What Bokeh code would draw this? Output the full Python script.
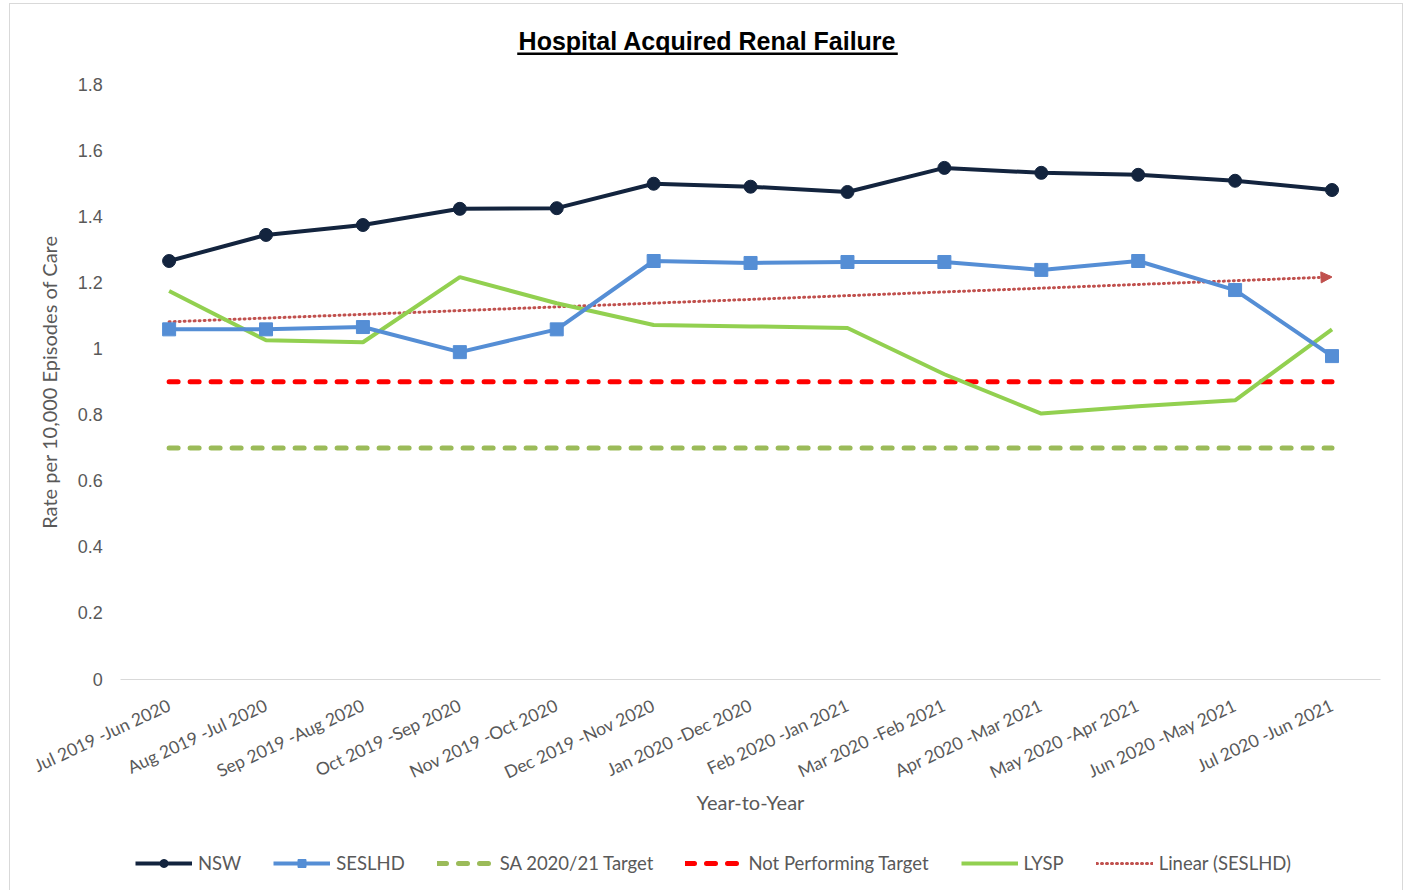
import numpy as np
from bokeh.plotting import figure
from bokeh.models import (Range1d, Legend, LegendItem, Label, BoxAnnotation,
                          Arrow, NormalHead, FixedTicker)
from bokeh.embed import file_html
from bokeh.resources import INLINE

categories = ["Jul 2019 -Jun 2020", "Aug 2019 -Jul 2020", "Sep 2019 -Aug 2020",
              "Oct 2019 -Sep 2020", "Nov 2019 -Oct 2020", "Dec 2019 -Nov 2020",
              "Jan 2020 -Dec 2020", "Feb 2020 -Jan 2021", "Mar 2020 -Feb 2021",
              "Apr 2020 -Mar 2021", "May 2020 -Apr 2021", "Jun 2020 -May 2021",
              "Jul 2020 -Jun 2021"]
nsw = [1.266, 1.345, 1.375, 1.424, 1.426, 1.500, 1.491, 1.475, 1.548, 1.533, 1.527, 1.509, 1.481]
seslhd = [1.059, 1.059, 1.066, 0.990, 1.059, 1.266, 1.260, 1.263, 1.263, 1.239, 1.266, 1.178, 0.978]
lysp = [1.175, 1.026, 1.020, 1.217, 1.138, 1.072, 1.068, 1.063, 0.923, 0.804, 0.826, 0.844, 1.059]
sa_target = [0.7] * 13
not_performing = [0.9] * 13
y_ticks = [0, 0.2, 0.4, 0.6, 0.8, 1.0, 1.2, 1.4, 1.6, 1.8]
y_tick_labels = ["0", "0.2", "0.4", "0.6", "0.8", "1", "1.2", "1.4", "1.6", "1.8"]

x = list(range(len(categories)))
coef = np.polyfit(x, seslhd, 1)
trend = list(np.polyval(coef, x))

FONT = "Lato"
GREY = "#595959"

# page layout (pixels): canvas covers 10..1402 x 4..890, frame = whole canvas
CV_L, CV_R, CV_T, CV_B = 10, 1402, 4, 890
PLOT_L, PLOT_R, PLOT_T, PLOT_B = 120, 1378, 84, 677   # Excel plot area
px_per_x = (PLOT_R - PLOT_L) / 13.0
px_per_y = (PLOT_B - PLOT_T) / 1.8

def dx(page_x):
    return (page_x - PLOT_L) / px_per_x - 0.5

def dy(page_y):
    return (PLOT_B - page_y) / px_per_y

p = figure(width=1394, height=888, output_backend="svg", toolbar_location=None,
           x_range=Range1d(dx(CV_L), dx(CV_R)), y_range=Range1d(dy(CV_B), dy(CV_T)),
           min_border_left=0, min_border_right=0, min_border_top=0, min_border_bottom=0)
p.outline_line_color = None
p.xgrid.visible = False
p.ygrid.visible = False
p.styles = {"border": "1px solid #d9d9d9", "margin-left": "9px", "margin-top": "3px"}

# axes (fixed inside the frame)
p.xaxis.fixed_location = 0
p.xaxis.bounds = (-0.5, 12.5)
p.xaxis.ticker = FixedTicker(ticks=x)
p.xaxis.major_label_overrides = {i: c for i, c in enumerate(categories)}
p.xaxis.major_label_orientation = np.deg2rad(25)
p.xaxis.major_label_text_font = FONT
p.xaxis.major_label_text_font_size = "17.5px"
p.xaxis.major_label_text_color = GREY
p.xaxis.major_tick_line_color = None
p.xaxis.minor_tick_line_color = None
p.xaxis.axis_line_color = "#d9d9d9"
p.xaxis.axis_line_width = 1
p.xaxis.major_label_standoff = 19
p.xaxis.axis_label = "Year-to-Year"
p.xaxis.axis_label_text_font = FONT
p.xaxis.axis_label_text_font_size = "20px"
p.xaxis.axis_label_text_font_style = "normal"
p.xaxis.axis_label_text_color = GREY
p.xaxis.axis_label_standoff = -6

p.yaxis.fixed_location = -0.5
p.yaxis.bounds = (0, 1.8)
p.yaxis.ticker = FixedTicker(ticks=y_ticks)
p.yaxis.major_label_overrides = {t: l for t, l in zip(y_ticks, y_tick_labels)}
p.yaxis.major_label_text_font = "Liberation Sans"
p.yaxis.major_label_text_font_size = "18px"
p.yaxis.major_label_text_color = GREY
p.yaxis.major_tick_line_color = None
p.yaxis.minor_tick_line_color = None
p.yaxis.axis_line_color = None
p.yaxis.major_label_standoff = 12
p.yaxis.axis_label = "Rate per 10,000 Episodes of Care"
p.yaxis.axis_label_text_font = FONT
p.yaxis.axis_label_text_font_size = "20px"
p.yaxis.axis_label_text_font_style = "normal"
p.yaxis.axis_label_text_color = GREY
p.yaxis.axis_label_standoff = 13

# series
r_sa = p.line(x, sa_target, line_color="#9BBB59", line_width=5, line_dash="9 12", line_cap="round")
r_np = p.line(x, not_performing, line_color="#FF0000", line_width=5, line_dash="9 12", line_cap="round")
r_trend = p.line(x, trend, line_color="#C0504D", line_width=3, line_dash="1 4", line_cap="round")
p.add_layout(Arrow(end=NormalHead(size=11, fill_color="#C0504D", line_color="#C0504D"),
                   x_start=x[-1] - 0.15, y_start=float(np.polyval(coef, x[-1] - 0.15)),
                   x_end=x[-1], y_end=trend[-1], line_alpha=0))
r_lysp = p.line(x, lysp, line_color="#92D050", line_width=4)
r_ses_l = p.line(x, seslhd, line_color="#558ED5", line_width=4)
r_ses_m = p.scatter(x, seslhd, marker="square", size=13, fill_color="#558ED5", line_color="#558ED5")
r_nsw_l = p.line(x, nsw, line_color="#13243E", line_width=4)
r_nsw_m = p.scatter(x, nsw, marker="circle", size=13, fill_color="#13243E", line_color="#13243E")

legend = Legend(items=[
    LegendItem(label="NSW", renderers=[r_nsw_l, r_nsw_m]),
    LegendItem(label="SESLHD", renderers=[r_ses_l, r_ses_m]),
    LegendItem(label="SA 2020/21 Target", renderers=[r_sa]),
    LegendItem(label="Not Performing Target", renderers=[r_np]),
    LegendItem(label="LYSP", renderers=[r_lysp]),
    LegendItem(label="Linear (SESLHD)", renderers=[r_trend]),
], orientation="horizontal", location=(135 - CV_L, 18), padding=0, margin=0,
    spacing=32, glyph_width=57, glyph_height=20, label_standoff=6,
    label_text_font=FONT, label_text_font_size="18.5px", label_text_color=GREY,
    border_line_color=None, background_fill_alpha=0)
p.add_layout(legend, "center")

# title with underline
p.add_layout(Label(x=dx(706), y=dy(40), text="Hospital Acquired Renal Failure",
                   text_align="center", text_baseline="middle",
                   text_font="Liberation Sans", text_font_style="bold",
                   text_font_size="25px", text_color="#000000"))
p.add_layout(BoxAnnotation(left=dx(516), right=dx(896), top=dy(52), bottom=dy(54.5),
                           fill_color="#000000", fill_alpha=1, line_color=None))

open("out.html", "w").write(file_html(p, INLINE))
